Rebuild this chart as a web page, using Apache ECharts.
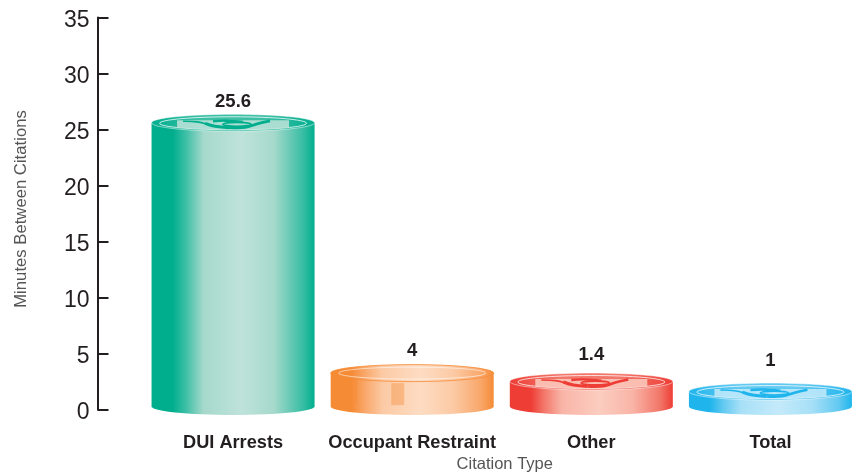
<!DOCTYPE html>
<html>
<head>
<meta charset="utf-8">
<style>html,body{margin:0;padding:0;background:#fff}#main{width:858px;height:472px}</style>
<script src="https://cdn.jsdelivr.net/npm/echarts@6/dist/echarts.min.js"></script>
</head>
<body>
<div id="main"></div>
<script>
var categories = ['DUI Arrests', 'Occupant Restraint', 'Other', 'Total'];
// printed values above each cylinder
var values = [25.6, 4, 1.4, 1];
// the cylinders in the picture are not to scale with the printed values, these are read off the axis
var drawnHeights = [25.6, 3.25, 2.5, 1.6];
var yTicks = [0, 5, 10, 15, 20, 25, 30, 35];

var ink = '#231f20';
var palette = [
  { edge: '#00ae8e', mid: '#3dbfa6', soft: '#a6d9cc', light: '#bfe3da' },
  { edge: '#f68b36', mid: '#f9a76a', soft: '#fccaa5', light: '#fddcc3' },
  { edge: '#ee3d35', mid: '#f2776a', soft: '#f9b5a7', light: '#fbcdc0' },
  { edge: '#1fb5ec', mid: '#62c9f1', soft: '#a8e0f7', light: '#c4eafa' }
];
var labelGap = [21, 22, 27, 31];
var hasSwirl = [true, false, true, true];

function bodyFill(c) {
  return new echarts.graphic.LinearGradient(0, 0, 1, 0, [
    { offset: 0, color: c.edge },
    { offset: 0.13, color: c.edge },
    { offset: 0.21, color: c.mid },
    { offset: 0.32, color: c.soft },
    { offset: 0.55, color: c.light },
    { offset: 0.75, color: c.soft },
    { offset: 0.92, color: c.mid },
    { offset: 1, color: c.edge }
  ]);
}

function lidFill(c) {
  return new echarts.graphic.LinearGradient(0, 0, 1, 0, [
    { offset: 0, color: c.edge },
    { offset: 0.3, color: c.mid },
    { offset: 0.5, color: c.mid },
    { offset: 0.7, color: c.mid },
    { offset: 1, color: c.edge }
  ]);
}

function moved(points, cx, cy) {
  return points.map(function (p) { return [cx + p[0], cy + p[1]]; });
}

function swirl(c, cx, cy) {
  var band = [];
  var x;
  for (x = -56; x <= 56; x += 8) {
    band.push([x, 6.5 * Math.sqrt(1 - x * x / (73.5 * 73.5))]);
  }
  band.push([56, -3], [-56, -3]);
  var strokes = [
    { w: 1.6, pts: [[-50, -2], [-36, -1.4], [-26, 1]] },
    { w: 3, pts: [[-28, 0], [-18, 3], [-4, 4.4]] },
    { w: 2.6, pts: [[-4, 4.4], [12, 4.2], [24, 0.6], [37, -2.4]] },
    { w: 2.4, pts: [[-20, -2], [-8, -2.6], [10, -1.4]] }
  ];
  var out = [
    { type: 'polygon', shape: { points: moved(band, cx, cy) }, style: { fill: c.light, opacity: 0.85 } }
  ];
  strokes.forEach(function (s) {
    out.push({
      type: 'polyline',
      shape: { points: moved(s.pts, cx, cy), smooth: 0.4 },
      style: { fill: 'none', stroke: c.edge, lineWidth: s.w }
    });
  });
  out.push({
    type: 'ellipse',
    shape: { cx: cx + 4, cy: cy + 1, rx: 14, ry: 2 },
    style: { fill: 'none', stroke: c.edge, lineWidth: 1.8 }
  });
  return out;
}

function renderCylinder(params, api) {
  var i = api.value(0);
  var top = api.coord([i, api.value(1)]);
  var base = api.coord([i, 0]);
  var rx = api.size([1, 0])[0] * 0.455;
  var ry = 8.5;
  var cx = top[0], cy = top[1], by = base[1] - 3;
  var c = palette[i];
  var kids = [
    { type: 'ellipse', shape: { cx: cx, cy: by, rx: rx, ry: ry }, style: { fill: bodyFill(c) } },
    { type: 'rect', shape: { x: cx - rx, y: cy, width: rx * 2, height: by - cy }, style: { fill: bodyFill(c) } }
  ];
  if (hasSwirl[i]) {
    kids.push(
      { type: 'ellipse', shape: { cx: cx, cy: cy, rx: rx, ry: ry }, style: { fill: lidFill(c), stroke: '#fff', strokeOpacity: 0.6, lineWidth: 0.8 } },
      { type: 'ellipse', shape: { cx: cx, cy: cy + 0.5, rx: 73.5, ry: 6.5 }, style: { fill: 'none', stroke: '#fff', opacity: 0.75, lineWidth: 1 } }
    );
    kids = kids.concat(swirl(c, cx, cy + 0.5));
  } else {
    // plain lid and the two marks on the front wall of the orange cylinder
    kids.push(
      { type: 'ellipse', shape: { cx: cx, cy: cy, rx: rx, ry: ry }, style: { fill: bodyFill(c), stroke: c.edge, lineWidth: 0.8 } },
      { type: 'ellipse', shape: { cx: cx, cy: cy, rx: 73.5, ry: 6 }, style: { fill: 'none', stroke: '#fff', opacity: 0.7, lineWidth: 0.8 } },
      { type: 'rect', shape: { x: cx - 57, y: cy + 7, width: 1.5, height: 23 }, style: { fill: c.edge, opacity: 0.5 } },
      { type: 'rect', shape: { x: cx - 21, y: cy + 10, width: 13, height: 22 }, style: { fill: c.edge, opacity: 0.4 } }
    );
  }
  kids.push({
    type: 'text',
    style: {
      x: cx, y: cy - labelGap[i],
      text: String(values[i]),
      align: 'center', verticalAlign: 'middle',
      font: 'bold 18.5px "Liberation Sans", Arial, sans-serif',
      fill: ink
    }
  });
  return { type: 'group', children: kids };
}

var myChart = echarts.init(document.getElementById('main'), null, { renderer: 'canvas' });
var option = {
  animation: false,
  backgroundColor: '#fff',
  grid: { left: 143.5, right: -2, top: 17.5, bottom: 62.5, containLabel: false, outerBoundsMode: 'none' },
  xAxis: {
    type: 'category',
    data: categories,
    axisLine: { show: false },
    axisTick: { show: false },
    axisLabel: {
      margin: 24,
      interval: 0,
      fontSize: 18.2,
      fontWeight: 'bold',
      fontFamily: '"Liberation Sans", Arial, sans-serif',
      color: ink
    },
    name: 'Citation Type',
    nameLocation: 'middle',
    nameGap: 46,
    nameTextStyle: { fontSize: 16.5, color: '#555', fontFamily: '"Liberation Sans", Arial, sans-serif', padding: [0, 0, 0, 6] }
  },
  yAxis: {
    type: 'value',
    min: 0,
    max: 35,
    interval: 5,
    offset: 46,
    splitLine: { show: false },
    axisLine: { show: true, lineStyle: { color: ink, width: 2 } },
    axisTick: { show: true, inside: true, length: 11, lineStyle: { color: ink, width: 2 } },
    axisLabel: {
      margin: 8,
      fontSize: 23,
      verticalAlign: 'top',
      lineHeight: 7,
      fontFamily: '"Liberation Sans", Arial, sans-serif',
      color: ink,
      customValues: yTicks
    },
    name: 'Minutes Between Citations',
    nameLocation: 'middle',
    nameGap: 68,
    nameRotate: 90,
    nameTextStyle: { fontSize: 16.7, color: '#555', fontFamily: '"Liberation Sans", Arial, sans-serif', padding: [0, 0, 0, 9] }
  },
  series: [{
    type: 'custom',
    renderItem: renderCylinder,
    clip: false,
    data: categories.map(function (name, i) { return [i, drawnHeights[i], values[i]]; }),
    encode: { x: 0, y: 1 }
  }]
};
myChart.setOption(option);
</script>
</body>
</html>
